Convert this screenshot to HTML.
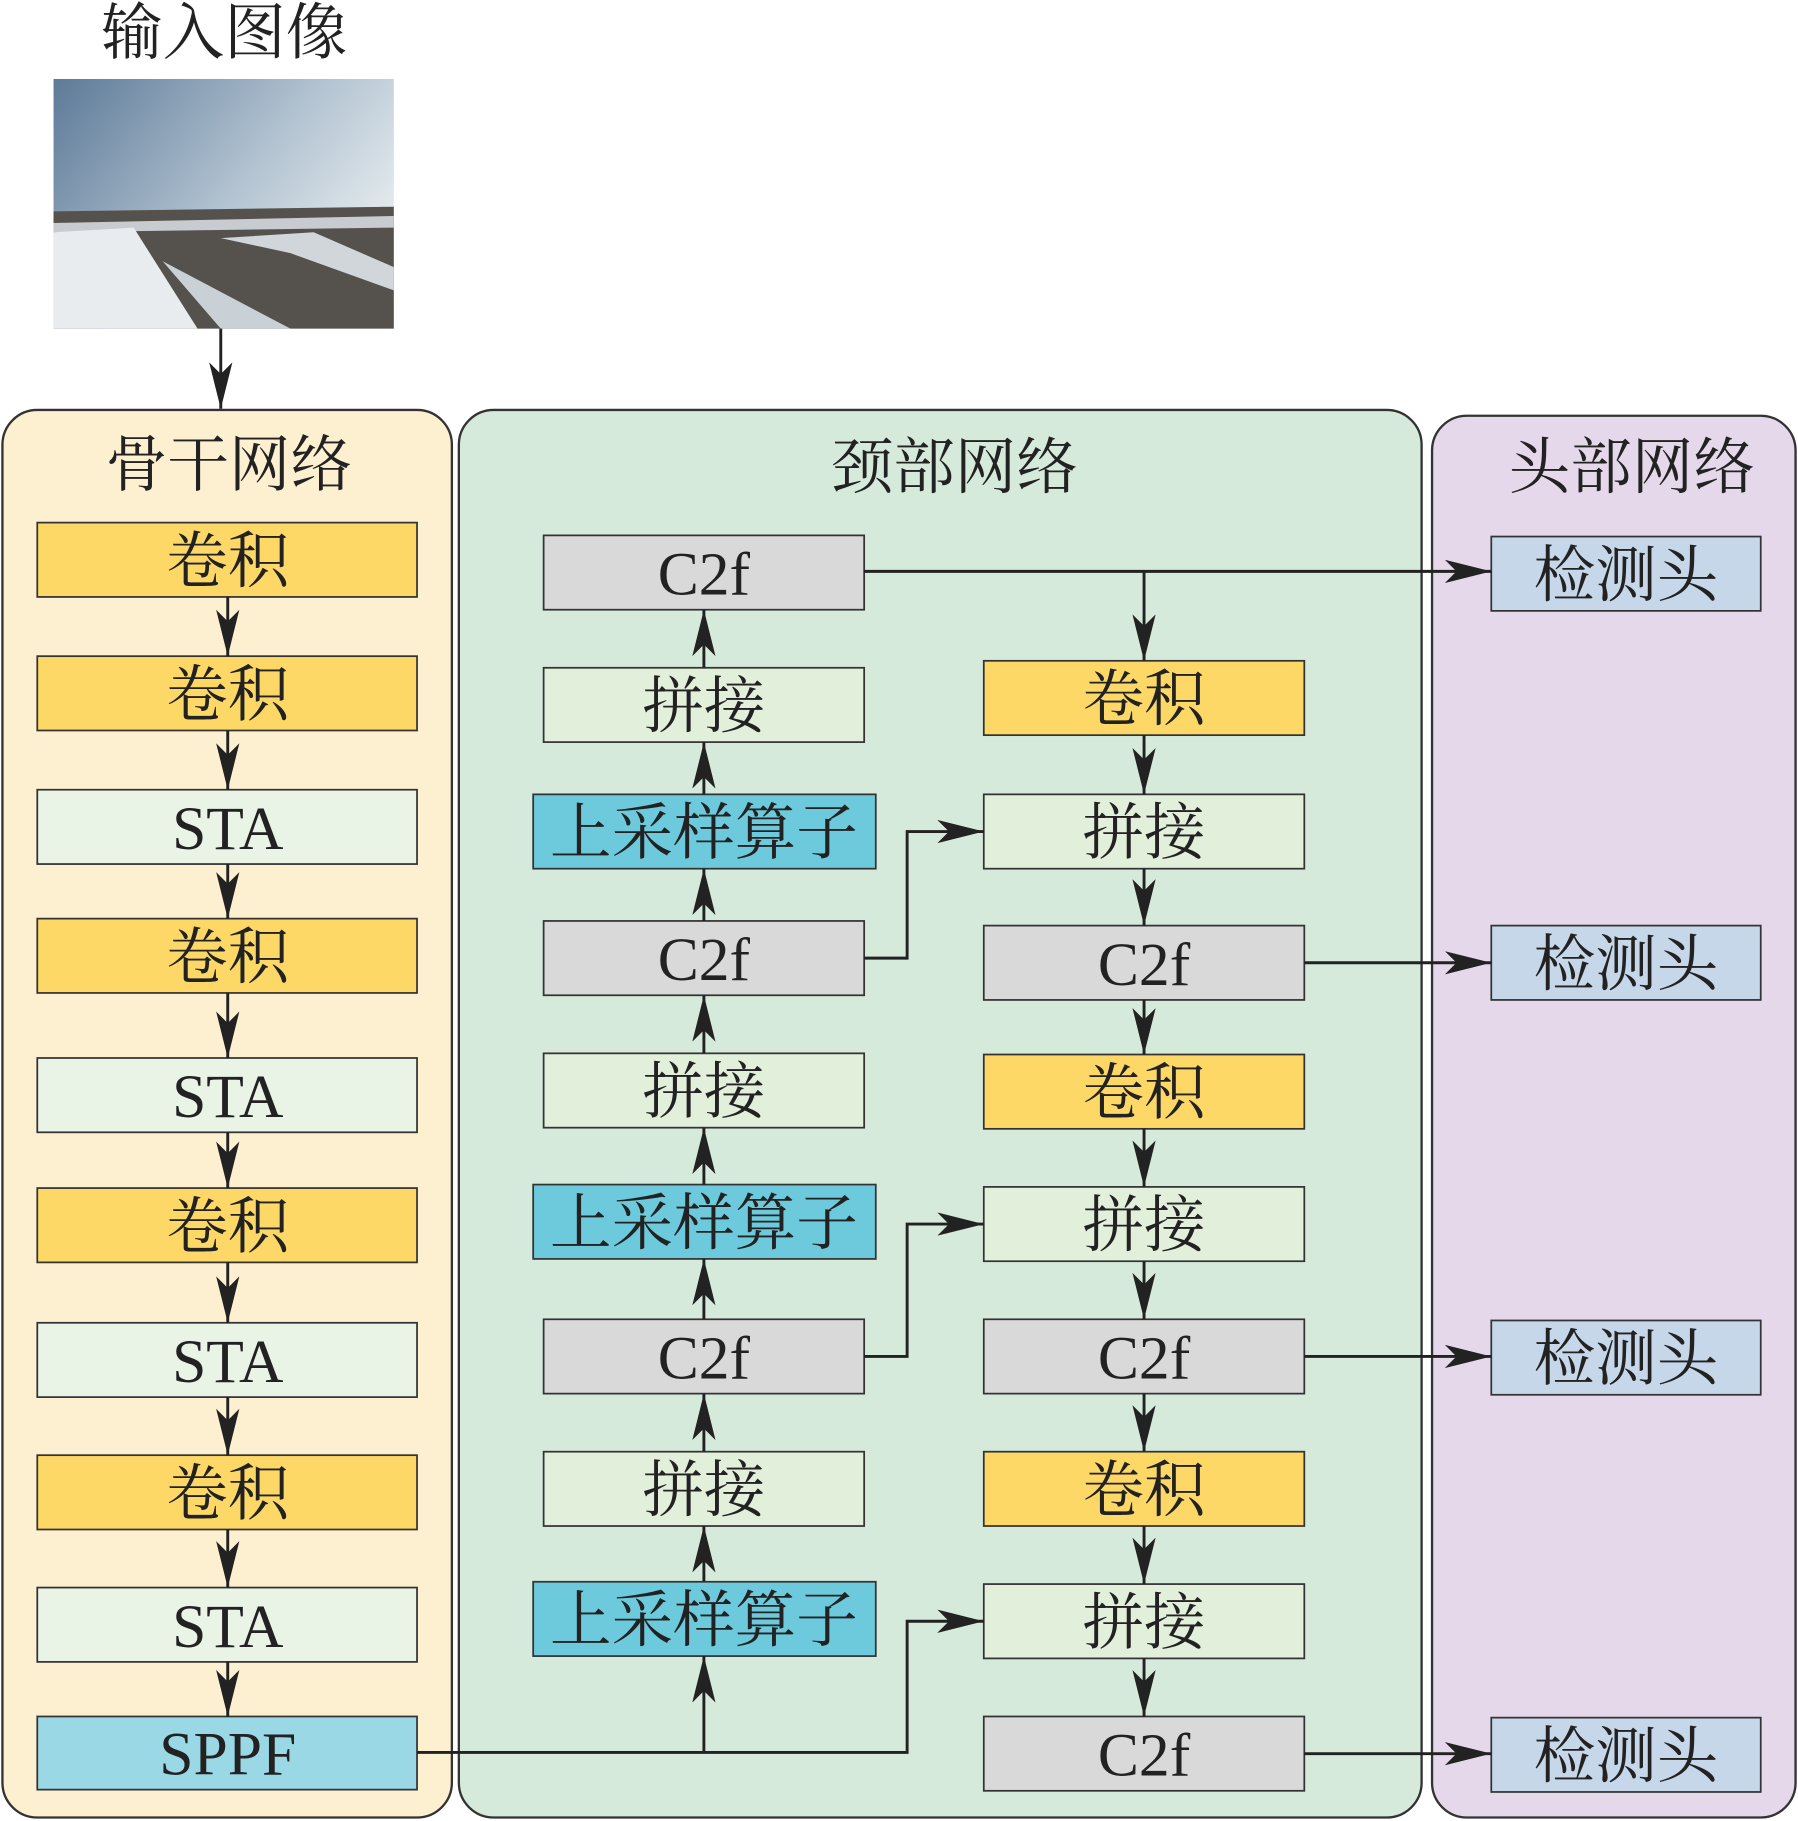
<!DOCTYPE html>
<html><head><meta charset="utf-8"><style>
html,body{margin:0;padding:0;background:#fff}
svg{display:block}
.cn{font-family:"Liberation Serif","Noto Serif CJK SC",serif;font-size:53px;fill:#222}
.lt{font-family:"Liberation Serif","Noto Serif CJK SC",serif;font-size:53px;fill:#222}
</style></head><body>
<svg width="1798" height="1821" viewBox="0 0 1548 1568" xmlns="http://www.w3.org/2000/svg">
<defs>
<marker id="b" viewBox="0 0 40 20" markerWidth="40" markerHeight="20" refX="40" refY="10" orient="auto" markerUnits="userSpaceOnUse">
<path d="M0,0 L40,10 L0,20 L10,10 Z" fill="#222"/></marker>
<linearGradient id="sky" x1="0" y1="0" x2="1" y2="0.6">
<stop offset="0" stop-color="#5d7a98"/><stop offset="0.6" stop-color="#b4c4d2"/><stop offset="1" stop-color="#e8eef0"/></linearGradient>
</defs>
<text x="193" y="46" text-anchor="middle" class="cn">输入图像</text>
<rect x="46" y="68" width="293" height="215" fill="url(#sky)"/>
<path d="M46,182 L339,178 L339,283 L46,283 Z" fill="#55524d"/>
<path d="M46,192 L339,186 L339,196 L46,200 Z" fill="#c8ccd0"/>
<path d="M46,200 L115,196 L170,283 L46,283 Z" fill="#e8ecef"/>
<path d="M190,205 L270,200 L339,230 L339,250 L250,218 Z" fill="#d0d6da"/>
<path d="M140,225 L190,283 L250,283 Z" fill="#c9d0d6"/>
<line x1="190" y1="283" x2="190" y2="352" stroke="#222" stroke-width="2.5" marker-end="url(#b)"/>

<rect x="2" y="353" width="387" height="1212" rx="30" fill="#fdf0d0" stroke="#333" stroke-width="2"/>
<rect x="395" y="353" width="829" height="1212" rx="30" fill="#d5eadb" stroke="#333" stroke-width="2"/>
<rect x="1233" y="358" width="313" height="1207" rx="30" fill="#e5d8ea" stroke="#333" stroke-width="2"/>
<text x="197" y="418" text-anchor="middle" class="cn">骨干网络</text>
<text x="822" y="420" text-anchor="middle" class="cn">颈部网络</text>
<text x="1405" y="420" text-anchor="middle" class="cn">头部网络</text>

<g stroke="#333" stroke-width="1.5">
<rect x="32" y="450" width="327" height="64" fill="#fdd867"/>
<rect x="32" y="565" width="327" height="64" fill="#fdd867"/>
<rect x="32" y="680" width="327" height="64" fill="#e9f3e6"/>
<rect x="32" y="791" width="327" height="64" fill="#fdd867"/>
<rect x="32" y="911" width="327" height="64" fill="#e9f3e6"/>
<rect x="32" y="1023" width="327" height="64" fill="#fdd867"/>
<rect x="32" y="1139" width="327" height="64" fill="#e9f3e6"/>
<rect x="32" y="1253" width="327" height="64" fill="#fdd867"/>
<rect x="32" y="1367" width="327" height="64" fill="#e9f3e6"/>
<rect x="32" y="1478" width="327" height="63" fill="#9ad8e6"/>
<rect x="468" y="461" width="276" height="64" fill="#d9d9d9"/>
<rect x="468" y="575" width="276" height="64" fill="#e2efdb"/>
<rect x="459" y="684" width="295" height="64" fill="#6ccadc"/>
<rect x="468" y="793" width="276" height="64" fill="#d9d9d9"/>
<rect x="468" y="907" width="276" height="64" fill="#e2efdb"/>
<rect x="459" y="1020" width="295" height="64" fill="#6ccadc"/>
<rect x="468" y="1136" width="276" height="64" fill="#d9d9d9"/>
<rect x="468" y="1250" width="276" height="64" fill="#e2efdb"/>
<rect x="459" y="1362" width="295" height="64" fill="#6ccadc"/>
<rect x="847" y="569" width="276" height="64" fill="#fdd867"/>
<rect x="847" y="684" width="276" height="64" fill="#e2efdb"/>
<rect x="847" y="797" width="276" height="64" fill="#d9d9d9"/>
<rect x="847" y="908" width="276" height="64" fill="#fdd867"/>
<rect x="847" y="1022" width="276" height="64" fill="#e2efdb"/>
<rect x="847" y="1136" width="276" height="64" fill="#d9d9d9"/>
<rect x="847" y="1250" width="276" height="64" fill="#fdd867"/>
<rect x="847" y="1364" width="276" height="64" fill="#e2efdb"/>
<rect x="847" y="1478" width="276" height="64" fill="#d9d9d9"/>
<rect x="1284" y="462" width="232" height="64" fill="#c5d7e8"/>
<rect x="1284" y="797" width="232" height="64" fill="#c5d7e8"/>
<rect x="1284" y="1137" width="232" height="64" fill="#c5d7e8"/>
<rect x="1284" y="1479" width="232" height="64" fill="#c5d7e8"/>
</g>

<g text-anchor="middle">
<text x="196" y="501" class="cn">卷积</text>
<text x="196" y="616" class="cn">卷积</text>
<text x="196" y="731" class="lt">STA</text>
<text x="196" y="842" class="cn">卷积</text>
<text x="196" y="962" class="lt">STA</text>
<text x="196" y="1074" class="cn">卷积</text>
<text x="196" y="1190" class="lt">STA</text>
<text x="196" y="1304" class="cn">卷积</text>
<text x="196" y="1418" class="lt">STA</text>
<text x="196" y="1528" class="lt">SPPF</text>

<text x="606" y="512" class="lt">C2f</text>
<text x="606" y="626" class="cn">拼接</text>
<text x="606" y="735" class="cn">上采样算子</text>
<text x="606" y="844" class="lt">C2f</text>
<text x="606" y="958" class="cn">拼接</text>
<text x="606" y="1071" class="cn">上采样算子</text>
<text x="606" y="1187" class="lt">C2f</text>
<text x="606" y="1301" class="cn">拼接</text>
<text x="606" y="1413" class="cn">上采样算子</text>

<text x="985" y="620" class="cn">卷积</text>
<text x="985" y="735" class="cn">拼接</text>
<text x="985" y="848" class="lt">C2f</text>
<text x="985" y="959" class="cn">卷积</text>
<text x="985" y="1073" class="cn">拼接</text>
<text x="985" y="1187" class="lt">C2f</text>
<text x="985" y="1301" class="cn">卷积</text>
<text x="985" y="1415" class="cn">拼接</text>
<text x="985" y="1529" class="lt">C2f</text>

<text x="1400" y="513" class="cn">检测头</text>
<text x="1400" y="848" class="cn">检测头</text>
<text x="1400" y="1188" class="cn">检测头</text>
<text x="1400" y="1530" class="cn">检测头</text>
</g>

<g stroke="#222" stroke-width="2.5" fill="none">
<line x1="196" y1="514" x2="196" y2="565" marker-end="url(#b)"/>
<line x1="196" y1="629" x2="196" y2="680" marker-end="url(#b)"/>
<line x1="196" y1="744" x2="196" y2="791" marker-end="url(#b)"/>
<line x1="196" y1="855" x2="196" y2="911" marker-end="url(#b)"/>
<line x1="196" y1="975" x2="196" y2="1023" marker-end="url(#b)"/>
<line x1="196" y1="1087" x2="196" y2="1139" marker-end="url(#b)"/>
<line x1="196" y1="1203" x2="196" y2="1253" marker-end="url(#b)"/>
<line x1="196" y1="1317" x2="196" y2="1367" marker-end="url(#b)"/>
<line x1="196" y1="1431" x2="196" y2="1478" marker-end="url(#b)"/>
<line x1="606" y1="575" x2="606" y2="525" marker-end="url(#b)"/>
<line x1="606" y1="684" x2="606" y2="639" marker-end="url(#b)"/>
<line x1="606" y1="793" x2="606" y2="748" marker-end="url(#b)"/>
<line x1="606" y1="907" x2="606" y2="857" marker-end="url(#b)"/>
<line x1="606" y1="1020" x2="606" y2="971" marker-end="url(#b)"/>
<line x1="606" y1="1136" x2="606" y2="1084" marker-end="url(#b)"/>
<line x1="606" y1="1250" x2="606" y2="1200" marker-end="url(#b)"/>
<line x1="606" y1="1362" x2="606" y2="1314" marker-end="url(#b)"/>
<line x1="606" y1="1509" x2="606" y2="1426" marker-end="url(#b)"/>
<line x1="985" y1="492" x2="985" y2="569" marker-end="url(#b)"/>
<line x1="985" y1="633" x2="985" y2="684" marker-end="url(#b)"/>
<line x1="985" y1="748" x2="985" y2="797" marker-end="url(#b)"/>
<line x1="985" y1="861" x2="985" y2="908" marker-end="url(#b)"/>
<line x1="985" y1="972" x2="985" y2="1022" marker-end="url(#b)"/>
<line x1="985" y1="1086" x2="985" y2="1136" marker-end="url(#b)"/>
<line x1="985" y1="1200" x2="985" y2="1250" marker-end="url(#b)"/>
<line x1="985" y1="1314" x2="985" y2="1364" marker-end="url(#b)"/>
<line x1="985" y1="1428" x2="985" y2="1478" marker-end="url(#b)"/>
<polyline points="744,825 781,825 781,716 847,716" marker-end="url(#b)"/>
<polyline points="744,1168 781,1168 781,1054 847,1054" marker-end="url(#b)"/>
<polyline points="359,1509 781,1509 781,1396 847,1396" marker-end="url(#b)"/>
<line x1="744" y1="492" x2="1284" y2="492" marker-end="url(#b)"/>
<line x1="1123" y1="829" x2="1284" y2="829" marker-end="url(#b)"/>
<line x1="1123" y1="1168" x2="1284" y2="1168" marker-end="url(#b)"/>
<line x1="1123" y1="1510" x2="1284" y2="1510" marker-end="url(#b)"/>
</g>
</svg>
</body></html>
